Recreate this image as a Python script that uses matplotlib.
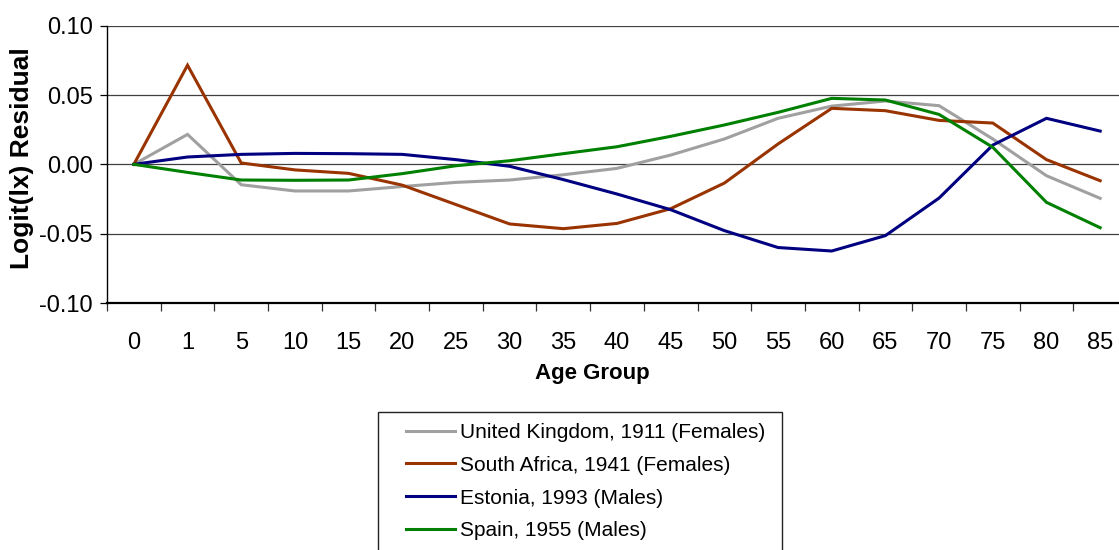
import numpy as np
import matplotlib
matplotlib.use('Agg')
import matplotlib.pyplot as plt
from matplotlib.patches import Rectangle

plt.rcParams['font.family'] = ['Liberation Sans', 'DejaVu Sans']

# age groups (x categories)
ages = ['0', '1', '5', '10', '15', '20', '25', '30', '35', '40', '45',
        '50', '55', '60', '65', '70', '75', '80', '85']

# residuals
uk_1911 = [0.0, 0.0216, -0.0147, -0.0192, -0.0192, -0.0160, -0.0130, -0.0113, -0.0075,
           -0.0029, 0.0067, 0.0183, 0.0332, 0.0420, 0.0457, 0.0423, 0.0183, -0.0082, -0.0245]
sa_1941 = [0.0, 0.0715, 0.0010, -0.0040, -0.0065, -0.0150, -0.0290, -0.0430, -0.0464,
           -0.0426, -0.0320, -0.0135, 0.0147, 0.0404, 0.0387, 0.0317, 0.0298, 0.0034, -0.0118]
est_1993 = [0.0, 0.0053, 0.0072, 0.0079, 0.0077, 0.0072, 0.0034, -0.0014, -0.0110,
            -0.0214, -0.0327, -0.0478, -0.0600, -0.0625, -0.0514, -0.0243, 0.0139, 0.0332, 0.0240]
spain_1955 = [0.0, -0.0058, -0.0113, -0.0115, -0.0113, -0.0067, -0.0010, 0.0026, 0.0077,
              0.0127, 0.0202, 0.0284, 0.0375, 0.0476, 0.0464, 0.0360, 0.0123, -0.0274, -0.0457]

series = [
    ('United Kingdom, 1911 (Females)', uk_1911, '#a0a0a0'),
    ('South Africa, 1941 (Females)', sa_1941, '#993300'),
    ('Estonia, 1993 (Males)', est_1993, '#000080'),
    ('Spain, 1955 (Males)', spain_1955, '#008000'),
]

W, H = 1119, 550
fig = plt.figure(figsize=(W / 100, H / 100), dpi=100)
ax = fig.add_axes([107 / W, (H - 303) / H, 1020 / W, (303 - 25.7) / H])

x = np.arange(len(ages))
lines = []
for name, vals, col in series:
    ln, = ax.plot(x, vals, color=col, lw=2.2, label=name, solid_joinstyle='miter')
    lines.append(ln)

ax.set_xlim(-0.5, len(ages) - 0.5)
ax.set_ylim(-0.10, 0.10)
ax.set_yticks([-0.10, -0.05, 0.0, 0.05, 0.10])
ax.set_yticklabels(['-0.10', '-0.05', '0.00', '0.05', '0.10'])
ax.yaxis.grid(True, color='#404040', lw=0.9)
ax.set_axisbelow(True)

ax.set_xticks(x)
ax.set_xticklabels(ages)
ax.set_xticks(np.arange(len(ages) + 1) - 0.5, minor=True)
ax.tick_params(axis='x', which='major', length=0, pad=21, labelsize=17)
ax.tick_params(axis='x', which='minor', length=6, width=0.9, direction='out', color='#333333')
ax.tick_params(axis='y', length=5, width=0.9, direction='out', labelsize=17, pad=5)

for s in ['top', 'right']:
    ax.spines[s].set_visible(False)
ax.spines['left'].set_linewidth(1.0)
ax.spines['bottom'].set_linewidth(1.6)

fig.text(592 / W, (H - 374) / H, 'Age Group', fontsize=16, fontweight='bold',
         ha='center', va='center')
fig.text(22 / W, (H - 158) / H, 'Logit(lx) Residual', rotation=90, fontsize=19,
         fontweight='bold', ha='center', va='center')

# legend box (cut at bottom edge like the original)
fig.patches.append(Rectangle((378 / W, -0.05), (782 - 378) / W, (H - 412) / H + 0.05,
                             transform=fig.transFigure, fill=False, ec='#222222', lw=1.0))
fig.legend(handles=lines, loc='upper left', bbox_to_anchor=(406 / W, (H - 423) / H),
           frameon=False, fontsize=15, handlelength=2.35, handletextpad=0.25,
           labelspacing=0.66, borderaxespad=0, borderpad=0)

fig.savefig('out.png', dpi=100)
